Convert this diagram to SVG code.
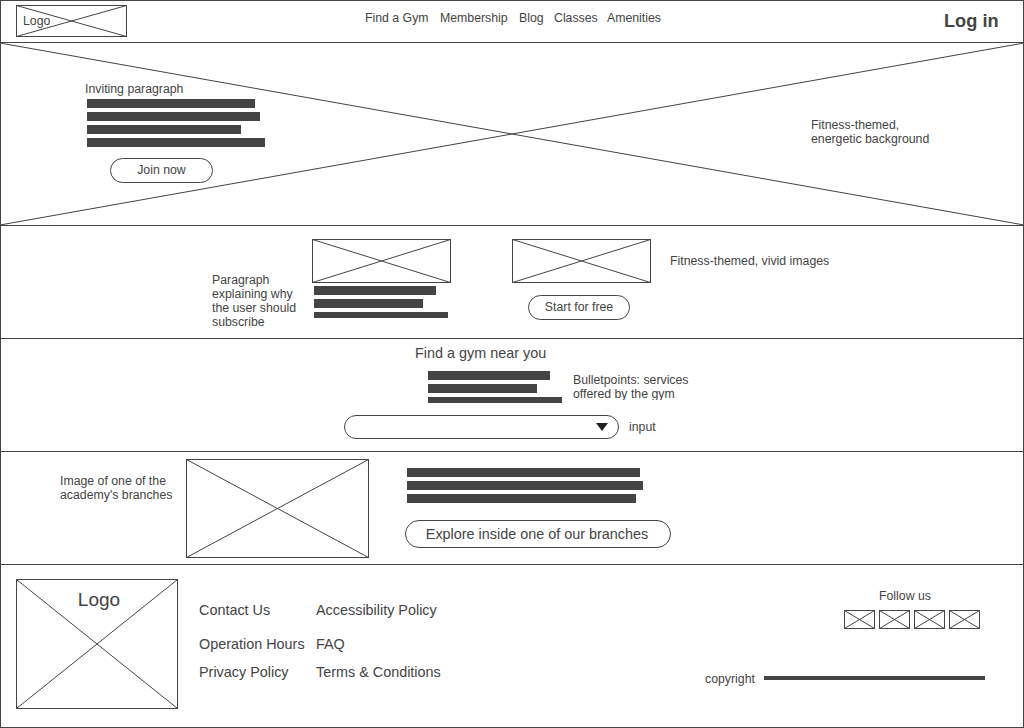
<svg xmlns="http://www.w3.org/2000/svg" width="1024" height="728" viewBox="0 0 1024 728">
<defs>
<style>
text{font-family:"Liberation Sans",Arial,sans-serif;fill:#444;font-size:12.3px}
.f14{font-size:14.4px}
.mid{text-anchor:middle}
.box{fill:none;stroke:#444;stroke-width:1}
.x{stroke:#444;stroke-width:1;fill:none}
.bar{fill:#444}
.sep{stroke:#444;stroke-width:1;fill:none}
.btn{fill:#fff;stroke:#444;stroke-width:1}
</style>
<clipPath id="bpclip"><rect x="560" y="360" width="200" height="40"/></clipPath>
</defs>
<rect x="0" y="0" width="1024" height="728" fill="#fff"/>

<g id="separators">
<line class="sep" x1="0" y1="42.5" x2="1024" y2="42.5"/>
<line class="sep" x1="0" y1="225.5" x2="1024" y2="225.5"/>
<line class="sep" x1="0" y1="338.5" x2="1024" y2="338.5"/>
<line class="sep" x1="0" y1="451.5" x2="1024" y2="451.5"/>
<line class="sep" x1="0" y1="564.5" x2="1024" y2="564.5"/>
</g>

<g id="header">
<g id="logo">
<rect class="box" x="16.5" y="5.5" width="110" height="31"/>
<line class="x" x1="16.5" y1="5.5" x2="126.5" y2="36.5"/>
<line class="x" x1="16.5" y1="36.5" x2="126.5" y2="5.5"/>
<text x="23" y="25">Logo</text>
</g>
<g id="nav">
<text x="365" y="22">Find a Gym</text>
<text x="440" y="22">Membership</text>
<text x="519" y="22">Blog</text>
<text x="554" y="22">Classes</text>
<text x="607" y="22">Amenities</text>
</g>
<text id="login" x="944" y="27" style="font-size:18.2px;font-weight:bold">Log in</text>
</g>

<g id="hero">
<line class="x" x1="0" y1="43" x2="1024" y2="225"/>
<line class="x" x1="0" y1="225" x2="1024" y2="43"/>
<text x="85" y="93">Inviting paragraph</text>
<rect class="bar" x="87" y="99" width="168" height="9"/>
<rect class="bar" x="87" y="112" width="173" height="9"/>
<rect class="bar" x="87" y="125" width="154" height="9"/>
<rect class="bar" x="87" y="138" width="178" height="9"/>
<g id="join">
<rect class="btn" x="110.5" y="158.5" width="102" height="24" rx="12"/>
<text class="mid" x="161.5" y="174">Join now</text>
</g>
<text x="811" y="129">Fitness-themed,</text>
<text x="811" y="143">energetic background</text>
</g>

<g id="subscribe">
<text x="212" y="284">Paragraph</text>
<text x="212" y="298">explaining why</text>
<text x="212" y="312">the user should</text>
<text x="212" y="326">subscribe</text>
<g id="img1">
<rect class="box" x="312.5" y="239.5" width="138" height="43"/>
<line class="x" x1="312.5" y1="239.5" x2="450.5" y2="282.5"/>
<line class="x" x1="312.5" y1="282.5" x2="450.5" y2="239.5"/>
</g>
<rect class="bar" x="314" y="286" width="122" height="9"/>
<rect class="bar" x="314" y="299" width="109" height="9"/>
<rect class="bar" x="314" y="312" width="134" height="6"/>
<g id="img2">
<rect class="box" x="512.5" y="239.5" width="138" height="43"/>
<line class="x" x1="512.5" y1="239.5" x2="650.5" y2="282.5"/>
<line class="x" x1="512.5" y1="282.5" x2="650.5" y2="239.5"/>
</g>
<g id="startfree">
<rect class="btn" x="528.5" y="295.5" width="101" height="24" rx="12"/>
<text class="mid" x="579" y="311">Start for free</text>
</g>
<text x="670" y="265">Fitness-themed, vivid images</text>
</g>

<g id="findgym">
<text class="f14" x="415" y="358">Find a gym near you</text>
<rect class="bar" x="428" y="371" width="122" height="9"/>
<rect class="bar" x="428" y="384" width="109" height="9"/>
<rect class="bar" x="428" y="397" width="134" height="6"/>
<g clip-path="url(#bpclip)">
<text x="573" y="384">Bulletpoints: services</text>
<text x="573" y="398">offered by the gym</text>
</g>
<g id="dropdown">
<rect class="btn" x="344.5" y="415.5" width="274" height="23" rx="11.5"/>
<polygon points="596,423 608,423 602,431" fill="#222"/>
</g>
<text x="629" y="431">input</text>
</g>

<g id="branches">
<text x="60" y="485">Image of one of the</text>
<text x="60" y="499">academy's branches</text>
<g id="img3">
<rect class="box" x="186.5" y="459.5" width="182" height="98"/>
<line class="x" x1="186.5" y1="459.5" x2="368.5" y2="557.5"/>
<line class="x" x1="186.5" y1="557.5" x2="368.5" y2="459.5"/>
</g>
<rect class="bar" x="407" y="468" width="233" height="9"/>
<rect class="bar" x="407" y="481" width="236" height="9"/>
<rect class="bar" x="407" y="494" width="229" height="9"/>
<g id="explore">
<rect class="btn" x="405.5" y="520.5" width="265" height="27" rx="13.5"/>
<text class="f14 mid" x="537" y="539">Explore inside one of our branches</text>
</g>
</g>

<g id="footer">
<g id="flogo">
<rect class="box" x="16.5" y="579.5" width="161" height="129"/>
<line class="x" x1="16.5" y1="579.5" x2="177.5" y2="708.5"/>
<line class="x" x1="16.5" y1="708.5" x2="177.5" y2="579.5"/>
<text class="mid" x="99" y="606" style="font-size:19px">Logo</text>
</g>
<g id="links">
<text class="f14" x="199" y="615">Contact Us</text>
<text class="f14" x="316" y="615">Accessibility Policy</text>
<text class="f14" x="199" y="649">Operation Hours</text>
<text class="f14" x="316" y="649">FAQ</text>
<text class="f14" x="199" y="677">Privacy Policy</text>
<text class="f14" x="316" y="677">Terms &amp; Conditions</text>
</g>
<g id="social">
<text x="879" y="600">Follow us</text>
<rect class="box" x="844.5" y="610.5" width="30" height="18"/>
<line class="x" x1="844.5" y1="610.5" x2="874.5" y2="628.5"/>
<line class="x" x1="844.5" y1="628.5" x2="874.5" y2="610.5"/>
<rect class="box" x="879.5" y="610.5" width="30" height="18"/>
<line class="x" x1="879.5" y1="610.5" x2="909.5" y2="628.5"/>
<line class="x" x1="879.5" y1="628.5" x2="909.5" y2="610.5"/>
<rect class="box" x="914.5" y="610.5" width="30" height="18"/>
<line class="x" x1="914.5" y1="610.5" x2="944.5" y2="628.5"/>
<line class="x" x1="914.5" y1="628.5" x2="944.5" y2="610.5"/>
<rect class="box" x="949.5" y="610.5" width="30" height="18"/>
<line class="x" x1="949.5" y1="610.5" x2="979.5" y2="628.5"/>
<line class="x" x1="949.5" y1="628.5" x2="979.5" y2="610.5"/>
</g>
<text x="705" y="683">copyright</text>
<rect class="bar" x="764" y="676" width="221" height="4"/>
</g>

<rect id="frame" x="0.5" y="0.5" width="1023" height="727" fill="none" stroke="#444" stroke-width="1"/>
</svg>
